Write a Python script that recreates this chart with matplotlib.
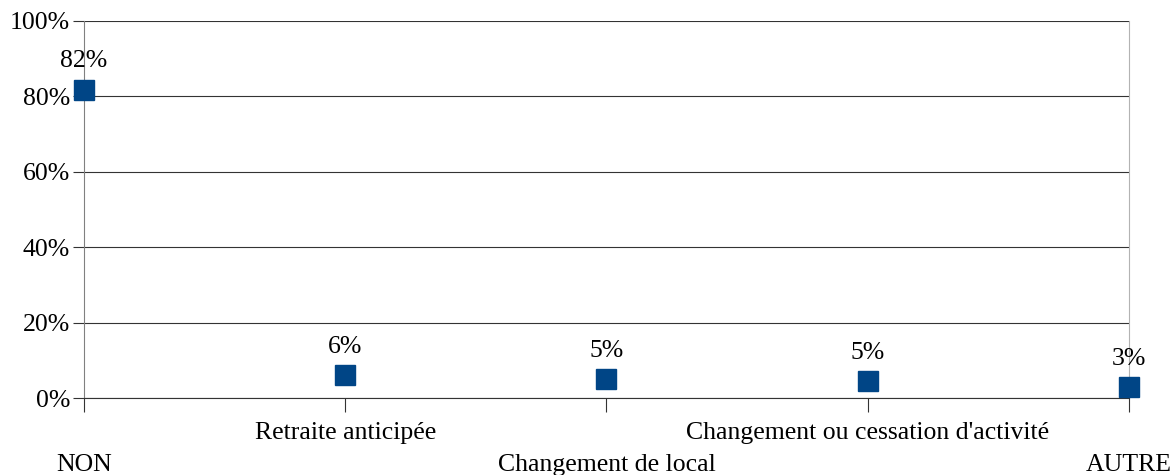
import matplotlib.pyplot as plt
import numpy as np

categories = ["NON", "Retraite anticipée", "Changement de local",
              "Changement ou cessation d'activité", "AUTRE"]
values = [81.8, 6.1, 5.0, 4.5, 2.9]
value_labels = ["82%", "6%", "5%", "5%", "3%"]
y_ticks = [0, 20, 40, 60, 80, 100]

plt.rcParams['font.family'] = ['Liberation Serif', 'DejaVu Serif']
plt.rcParams['font.size'] = 18.5

fig = plt.figure(figsize=(11.74, 4.75), dpi=100)
ax = fig.add_axes([0.0716, 0.162, 0.89, 0.794])

x = np.arange(len(categories))
ax.plot(x, values, 's', color='#004586', markersize=14.4, zorder=3, clip_on=False)

for xi, v, lab in zip(x, values, value_labels):
    ax.annotate(lab, (xi, v), xytext=(0, 20.5), textcoords='offset points',
                ha='center', va='center', fontsize=18.5)

ax.set_xlim(0, len(categories) - 1)
ax.set_ylim(0, 100)
ax.set_yticks(y_ticks)
ax.set_yticklabels([f"{t}%" for t in y_ticks])
ax.set_xticks(x)
ax.set_xticklabels([("\n" + c) if i % 2 == 0 else c for i, c in enumerate(categories)],
                   linespacing=1.55)
ax.yaxis.grid(True, color='#333333', linewidth=0.8)
ax.set_axisbelow(True)

ax.spines['top'].set_visible(False)
ax.spines['left'].set_color('#808080')
ax.spines['bottom'].set_color('#333333')
ax.spines['right'].set_color('#b3b3b3')
ax.tick_params(axis='y', length=8, color='#333333', pad=2)
ax.tick_params(axis='x', length=10, color='#333333', pad=7.5)

fig.savefig('out.png', dpi=100)
